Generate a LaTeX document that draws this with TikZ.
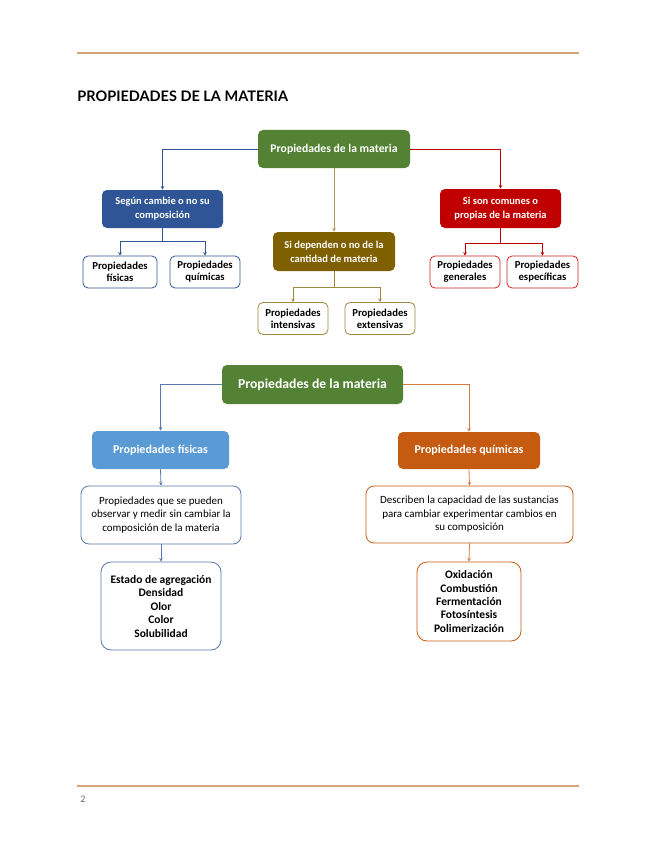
\documentclass[tikz,border=0pt]{standalone}
\usepackage{fontspec}
\setmainfont{Carlito}
\newfontfamily\titlefont{Lato}
\usetikzlibrary{arrows.meta}
\definecolor{grn}{HTML}{548235}
\definecolor{dblue}{HTML}{2F5597}
\definecolor{brn}{HTML}{7F6000}
\definecolor{rd}{HTML}{C00000}
\definecolor{lblue}{HTML}{5B9BD5}
\definecolor{orng}{HTML}{C55A11}
\definecolor{rule}{HTML}{D2A679}

\begin{document}
\begin{tikzpicture}[x=1pt, y=-1pt, line width=0.8pt,
  >={Stealth[length=3.5pt,width=3.5pt]},
  head/.style={shape=rectangle, rounded corners=5pt, align=center,
    text=white, font=\bfseries\fontsize{10.5}{14}\selectfont},
  leaf/.style={shape=rectangle, rounded corners=5pt, draw, fill=white,
    align=center, inner sep=2pt, minimum width=70pt, minimum height=32pt,
    font=\bfseries\fontsize{10.7}{12}\selectfont},
  desc/.style={shape=rectangle, rounded corners=8pt, draw, fill=white,
    align=center, font=\fontsize{11}{13.5}\selectfont},
  list/.style={shape=rectangle, rounded corners=10pt, draw, fill=white,
    align=center, font=\bfseries\fontsize{11.5}{13.5}\selectfont}]
  \useasboundingbox (0,0) rectangle (655,848);
  \draw[rule, line width=2pt] (77,53) -- (579,53);
  \draw[rule, line width=2pt] (77,786) -- (579,786);
  \node[anchor=base west, inner sep=0pt,
    font=\titlefont\bfseries\fontsize{14.5}{16}\selectfont] (title) at (77,102) {PROPIEDADES DE LA MATERIA};
  \node[anchor=base west, inner sep=0pt, text=black!60,
    font=\fontsize{10}{12}\selectfont] (page) at (80,802) {2};

  \node[head, fill=grn, minimum width=152pt, minimum height=38pt,
    font=\bfseries\fontsize{11.7}{13}\selectfont] (mat) at (334,149) {Propiedades de la materia};
  \node[head, fill=dblue, minimum width=121pt, minimum height=38pt] (segun) at (162.5,209) {Según cambie o no su\\composición};
  \node[head, fill=brn, minimum width=122pt, minimum height=39pt] (dep) at (334,251.5) {Si dependen o no de la\\cantidad de materia};
  \node[head, fill=rd, minimum width=121pt, minimum height=39pt] (comun) at (500.5,208.5) {Si son comunes o\\propias de la materia};
  \node[leaf, draw=dblue, minimum width=74pt] (fis) at (120,272) {Propiedades\\físicas};
  \node[leaf, draw=dblue] (qui) at (205,272) {Propiedades\\químicas};
  \node[leaf, draw=brn!75] (int) at (293,318.5) {Propiedades\\intensivas};
  \node[leaf, draw=brn!75] (ext) at (380,318.5) {Propiedades\\extensivas};
  \node[leaf, draw=rd!85] (gen) at (465,272) {Propiedades\\generales};
  \node[leaf, draw=rd!85, minimum width=71pt] (esp) at (542.5,272) {Propiedades\\específicas};

  \draw[->, dblue] (mat.west) -| (segun.north);
  \draw[->, brn!65] (mat.south) -- (dep.north);
  \draw[->, rd] (mat.east) -| (comun.north);
  \draw[->, dblue] (segun.south) -- ++(0,13) -| (fis.north);
  \draw[->, dblue] (segun.south) -- ++(0,13) -| (qui.north);
  \draw[->, brn!75] (dep.south) -- ++(0,16) -| (int.north);
  \draw[->, brn!75] (dep.south) -- ++(0,16) -| (ext.north);
  \draw[->, rd] (comun.south) -- ++(0,15) -| (gen.north);
  \draw[->, rd] (comun.south) -- ++(0,15) -| (esp.north);

  \node[head, fill=grn, minimum width=181pt, minimum height=39pt,
    font=\bfseries\fontsize{13.7}{16}\selectfont] (mat2) at (312.5,384.5) {Propiedades de la materia};
  \node[head, fill=lblue, minimum width=137pt, minimum height=38pt,
    font=\bfseries\fontsize{12}{14}\selectfont] (pfis) at (160.5,450) {Propiedades físicas};
  \node[head, fill=orng, minimum width=142pt, minimum height=37pt,
    font=\bfseries\fontsize{12}{14}\selectfont] (pqui) at (469,450.5) {Propiedades químicas};
  \node[desc, draw=dblue!80, minimum width=160pt, minimum height=58pt] (dfis) at (161,515) {Propiedades que se pueden\\observar y medir sin cambiar la\\composición de la materia};
  \node[desc, draw=orng, minimum width=207pt, minimum height=57pt] (dqui) at (469.5,514.5) {Describen la capacidad de las sustancias\\para cambiar experimentar cambios en\\su composición};
  \node[list, draw=dblue!80, minimum width=120pt, minimum height=88pt] (lfis) at (161,606) {Estado de agregación\\Densidad\\Olor\\Color\\Solubilidad};
  \node[list, draw=orng, minimum width=104pt, minimum height=79pt] (lqui) at (469,601.5) {Oxidación\\Combustión\\Fermentación\\Fotosíntesis\\Polimerización};

  \draw[->, dblue!80] (mat2.west) -| (pfis.north);
  \draw[->, orng!80] (mat2.east) -| (pqui.north);
  \draw[->, dblue!80] (pfis.south) -- (dfis.north);
  \draw[->, orng!80] (pqui.south) -- (dqui.north);
  \draw[->, dblue!80] (dfis.south) -- (lfis.north);
  \draw[->, orng!80] (dqui.south) -- (lqui.north);
\end{tikzpicture}
\end{document}
